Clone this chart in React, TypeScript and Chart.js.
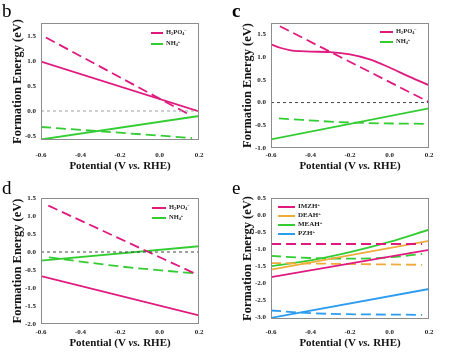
import React, { useEffect, useRef } from 'react';
import { Chart, registerables } from 'chart.js';

Chart.register(...registerables);

const FONT = "'Liberation Serif', 'Times New Roman', serif";
const MAGENTA = '#e0197f';
const GREEN = '#33cc33';
const ORANGE = '#efaa3a';
const BLUE = '#2b9cf0';
const GRAY = '#a0a0a0';

// shared axis ticks
const X_TICKS = [-0.6, -0.4, -0.2, 0.0, 0.2];

// ---- panel b ----
const B_H2PO4_X = [-0.6, 0.2];
const B_H2PO4_Y = [0.99, -0.01];
const B_H2PO4_DASH_X = [-0.575, 0.15];
const B_H2PO4_DASH_Y = [1.47, -0.07];
const B_NH4_X = [-0.6, 0.2];
const B_NH4_Y = [-0.57, -0.1];
const B_NH4_DASH_X = [-0.6, 0.165];
const B_NH4_DASH_Y = [-0.32, -0.54];
const B_Y_TICKS = [-0.5, 0.0, 0.5, 1.0, 1.5];

// ---- panel c ----
const C_H2PO4_X = [-0.6, -0.55, -0.5, -0.45, -0.4, -0.3, -0.2, -0.1, 0.0, 0.1, 0.2];
const C_H2PO4_Y = [1.28, 1.2, 1.15, 1.13, 1.12, 1.11, 1.06, 0.95, 0.77, 0.57, 0.38];
const C_H2PO4_DASH_X = [-0.555, 0.2];
const C_H2PO4_DASH_Y = [1.68, 0.01];
const C_NH4_X = [-0.6, 0.2];
const C_NH4_Y = [-0.81, -0.13];
const C_NH4_DASH_X = [-0.56, -0.2, 0.2];
const C_NH4_DASH_Y = [-0.35, -0.44, -0.47];
const C_Y_TICKS = [-1.0, -0.5, 0.0, 0.5, 1.0, 1.5];

// ---- panel d ----
const D_H2PO4_X = [-0.6, 0.2];
const D_H2PO4_Y = [-0.67, -1.76];
const D_H2PO4_DASH_X = [-0.563, 0.2];
const D_H2PO4_DASH_Y = [1.29, -0.65];
const D_NH4_X = [-0.6, 0.2];
const D_NH4_Y = [-0.24, 0.16];
const D_NH4_DASH_X = [-0.56, -0.2, 0.19];
const D_NH4_DASH_Y = [-0.15, -0.4, -0.6];
const D_Y_TICKS = [-2.0, -1.5, -1.0, -0.5, 0.0, 0.5, 1.0, 1.5];

// ---- panel e ----
const E_IMZH_X = [-0.6, 0.2];
const E_IMZH_Y = [-1.82, -1.02];
const E_IMZH_DASH_X = [-0.6, 0.165];
const E_IMZH_DASH_Y = [-0.85, -0.85];
const E_DEAH_X = [-0.6, 0.2];
const E_DEAH_Y = [-1.6, -0.76];
const E_DEAH_DASH_X = [-0.6, 0.165];
const E_DEAH_DASH_Y = [-1.41, -1.46];
const E_MEAH_X = [-0.6, -0.4, -0.2, 0.0, 0.2];
const E_MEAH_Y = [-1.5, -1.33, -1.09, -0.79, -0.43];
const E_MEAH_DASH_X = [-0.6, -0.4, -0.2, 0.0, 0.165];
const E_MEAH_DASH_Y = [-1.2, -1.26, -1.28, -1.24, -1.14];
const E_PZH_X = [-0.6, 0.2];
const E_PZH_Y = [-3.02, -2.17];
const E_PZH_DASH_X = [-0.6, -0.4, 0.165];
const E_PZH_DASH_Y = [-2.8, -2.88, -2.93];
const E_Y_TICKS = [-3.0, -2.5, -2.0, -1.5, -1.0, -0.5, 0.0, 0.5];

const ZERO_X = [-0.6, 0.2];
const ZERO_Y = [0, 0];

type Series = { x: number[]; y: number[]; color: string; dash?: number[]; width?: number; curve?: boolean };
type Panel = {
  letter: string;
  letterBold?: boolean;
  left: number;
  top: number;
  areaTop: number;
  axisH: number;
  xPad: number;
  ymin: number;
  ymax: number;
  yticks: number[];
  series: Series[];
  legend: { color: string; label: React.ReactNode }[];
  legendX: number;
  legendY: number;
  legendStep: number;
  legendFont: number;
  legendLen: number;
};

const DASH = [10, 5];
const ZDASH = [3, 3];

const H2PO4 = (
  <>
    H<sub>2</sub>PO<sub>4</sub><sup>−</sup>
  </>
);
const NH4 = (
  <>
    NH<sub>4</sub><sup>+</sup>
  </>
);
const plus = (s: string) => (
  <>
    {s}
    <sup>+</sup>
  </>
);

const PANELS: Panel[] = [
  {
    letter: 'b', left: 0, top: 0, areaTop: 23, axisH: 37, xPad: 11,
    ymin: -0.58, ymax: 1.76, yticks: B_Y_TICKS,
    series: [
      { x: ZERO_X, y: ZERO_Y, color: GRAY, dash: ZDASH, width: 1 },
      { x: B_H2PO4_X, y: B_H2PO4_Y, color: MAGENTA },
      { x: B_H2PO4_DASH_X, y: B_H2PO4_DASH_Y, color: MAGENTA, dash: DASH },
      { x: B_NH4_X, y: B_NH4_Y, color: GREEN },
      { x: B_NH4_DASH_X, y: B_NH4_DASH_Y, color: GREEN, dash: DASH },
    ],
    legend: [{ color: MAGENTA, label: H2PO4 }, { color: GREEN, label: NH4 }],
    legendX: 151, legendY: 33, legendStep: 11, legendFont: 6.5, legendLen: 12,
  },
  {
    letter: 'c', letterBold: true, left: 230, top: 0, areaTop: 23, axisH: 29, xPad: 3,
    ymin: -1.0, ymax: 1.75, yticks: C_Y_TICKS,
    series: [
      { x: ZERO_X, y: ZERO_Y, color: '#444', dash: ZDASH, width: 1 },
      { x: C_H2PO4_X, y: C_H2PO4_Y, color: MAGENTA, curve: true },
      { x: C_H2PO4_DASH_X, y: C_H2PO4_DASH_Y, color: MAGENTA, dash: DASH },
      { x: C_NH4_X, y: C_NH4_Y, color: GREEN },
      { x: C_NH4_DASH_X, y: C_NH4_DASH_Y, color: GREEN, dash: DASH, curve: true },
    ],
    legend: [{ color: MAGENTA, label: H2PO4 }, { color: GREEN, label: NH4 }],
    legendX: 150, legendY: 32, legendStep: 10, legendFont: 6.5, legendLen: 13,
  },
  {
    letter: 'd', left: 0, top: 177, areaTop: 21, axisH: 30, xPad: 4,
    ymin: -2.0, ymax: 1.5, yticks: D_Y_TICKS,
    series: [
      { x: ZERO_X, y: ZERO_Y, color: '#444', dash: ZDASH, width: 1 },
      { x: D_H2PO4_X, y: D_H2PO4_Y, color: MAGENTA },
      { x: D_H2PO4_DASH_X, y: D_H2PO4_DASH_Y, color: MAGENTA, dash: DASH },
      { x: D_NH4_X, y: D_NH4_Y, color: GREEN },
      { x: D_NH4_DASH_X, y: D_NH4_DASH_Y, color: GREEN, dash: DASH, curve: true },
    ],
    legend: [{ color: MAGENTA, label: H2PO4 }, { color: GREEN, label: NH4 }],
    legendX: 152, legendY: 31, legendStep: 10, legendFont: 6.5, legendLen: 14,
  },
  {
    letter: 'e', left: 230, top: 177, areaTop: 21, axisH: 35, xPad: 9,
    ymin: -3.05, ymax: 0.5, yticks: E_Y_TICKS,
    series: [
      { x: E_IMZH_X, y: E_IMZH_Y, color: MAGENTA },
      { x: E_IMZH_DASH_X, y: E_IMZH_DASH_Y, color: MAGENTA, dash: DASH },
      { x: E_DEAH_X, y: E_DEAH_Y, color: ORANGE },
      { x: E_DEAH_DASH_X, y: E_DEAH_DASH_Y, color: ORANGE, dash: DASH },
      { x: E_MEAH_X, y: E_MEAH_Y, color: GREEN, curve: true },
      { x: E_MEAH_DASH_X, y: E_MEAH_DASH_Y, color: GREEN, dash: DASH, curve: true },
      { x: E_PZH_X, y: E_PZH_Y, color: BLUE },
      { x: E_PZH_DASH_X, y: E_PZH_DASH_Y, color: BLUE, dash: DASH, curve: true },
    ],
    legend: [
      { color: MAGENTA, label: plus('IMZH') },
      { color: ORANGE, label: plus('DEAH') },
      { color: GREEN, label: plus('MEAH') },
      { color: BLUE, label: plus('PZH') },
    ],
    legendX: 48, legendY: 30, legendStep: 9, legendFont: 7, legendLen: 17,
  },
];

const fmt = (v: number) => (Math.abs(v) < 1e-9 ? '0.0' : v.toFixed(1));

const framePlugin = {
  id: 'frame',
  afterDatasetsDraw(chart: any) {
    const { ctx, chartArea: a } = chart;
    ctx.save();
    ctx.strokeStyle = '#8c8c8c';
    ctx.lineWidth = 1;
    ctx.strokeRect(Math.round(a.left) + 0.5, Math.round(a.top) + 0.5, Math.round(a.right - a.left) - 1, Math.round(a.bottom - a.top) - 1);
    ctx.restore();
  },
};

function PanelChart({ p }: { p: Panel }) {
  const ref = useRef<HTMLCanvasElement>(null);
  useEffect(() => {
    if (!ref.current) return;
    const chart = new Chart(ref.current, {
      type: 'line',
      data: {
        datasets: p.series.map((s) => ({
          data: s.x.map((x, i) => ({ x, y: s.y[i] })),
          borderColor: s.color,
          borderWidth: s.width ?? 1.8,
          borderDash: s.dash ?? [],
          pointRadius: 0,
          fill: false,
          cubicInterpolationMode: s.curve ? 'monotone' : 'default',
        })),
      },
      options: {
        responsive: false,
        animation: false,
        devicePixelRatio: 1,
        layout: { padding: { top: p.areaTop, right: 31, left: 0, bottom: 0 } },
        plugins: { legend: { display: false }, tooltip: { enabled: false } },
        scales: {
          x: {
            type: 'linear',
            min: -0.6,
            max: 0.2,
            grid: { display: false, drawTicks: false },
            border: { display: false },
            afterBuildTicks: (s: any) => {
              s.ticks = X_TICKS.map((v) => ({ value: v }));
            },
            afterFit: (s: any) => {
              s.height = p.axisH;
            },
            ticks: {
              font: { family: FONT, size: 7, weight: 'bold' },
              color: '#222',
              padding: p.xPad,
              maxRotation: 0,
              autoSkip: false,
              callback: (v: any) => fmt(Number(v)),
            },
          },
          y: {
            type: 'linear',
            min: p.ymin,
            max: p.ymax,
            grid: { display: false, drawTicks: false },
            border: { display: false },
            afterBuildTicks: (s: any) => {
              s.ticks = p.yticks.map((v) => ({ value: v }));
            },
            afterFit: (s: any) => {
              s.width = 41;
            },
            ticks: {
              font: { family: FONT, size: 7, weight: 'bold' },
              color: '#222',
              padding: 5,
              autoSkip: false,
              callback: (v: any) => fmt(Number(v)),
            },
            title: {
              display: true,
              text: 'Formation Energy (eV)',
              font: { family: FONT, size: 12.5, weight: 'bold' },
              color: '#111',
              padding: { top: 10, bottom: 0 },
            },
          },
        },
      } as any,
      plugins: [framePlugin],
    });
    return () => chart.destroy();
  }, [p]);

  return (
    <div style={{ position: 'absolute', left: p.left, top: p.top, width: 230, height: 177 }}>
      <canvas ref={ref} width={230} height={177} style={{ position: 'absolute', left: 0, top: 0, width: 230, height: 177 }} />
      <div
        style={{
          position: 'absolute',
          left: 2,
          top: 1,
          fontFamily: FONT,
          fontSize: 19,
          lineHeight: '19px',
          fontWeight: p.letterBold ? 'bold' : 'normal',
          color: '#000',
        }}
      >
        {p.letter}
      </div>
      <div
        style={{
          position: 'absolute',
          left: 120,
          top: 160,
          transform: 'translateX(-50%)',
          whiteSpace: 'nowrap',
          fontFamily: FONT,
          fontSize: 11,
          lineHeight: '11px',
          fontWeight: 'bold',
          color: '#111',
        }}
      >
        Potential (V <i>vs.</i> RHE)
      </div>
      {p.legend.map((l, i) => {
        const y = p.legendY + i * p.legendStep;
        return (
          <React.Fragment key={i}>
            <div
              style={{
                position: 'absolute',
                left: p.legendX,
                top: y - 1,
                width: p.legendLen,
                height: 2,
                background: l.color,
              }}
            />
            <div
              style={{
                position: 'absolute',
                left: p.legendX + p.legendLen + 3,
                top: y - p.legendFont * 0.6,
                fontFamily: FONT,
                fontSize: p.legendFont,
                lineHeight: `${p.legendFont}px`,
                fontWeight: 'bold',
                color: '#222',
                whiteSpace: 'nowrap',
              }}
            >
              <span className="lg">{l.label}</span>
            </div>
          </React.Fragment>
        );
      })}
    </div>
  );
}

export default function App() {
  return (
    <div style={{ position: 'fixed', left: 0, top: 0, width: 460, height: 354, background: '#fff', overflow: 'hidden' }}>
      <style>{`.lg sub, .lg sup { font-size: 0.65em; line-height: 0; } .lg sub { vertical-align: -0.25em; } .lg sup { vertical-align: 0.5em; }`}</style>
      {PANELS.map((p) => (
        <PanelChart key={p.letter} p={p} />
      ))}
    </div>
  );
}
